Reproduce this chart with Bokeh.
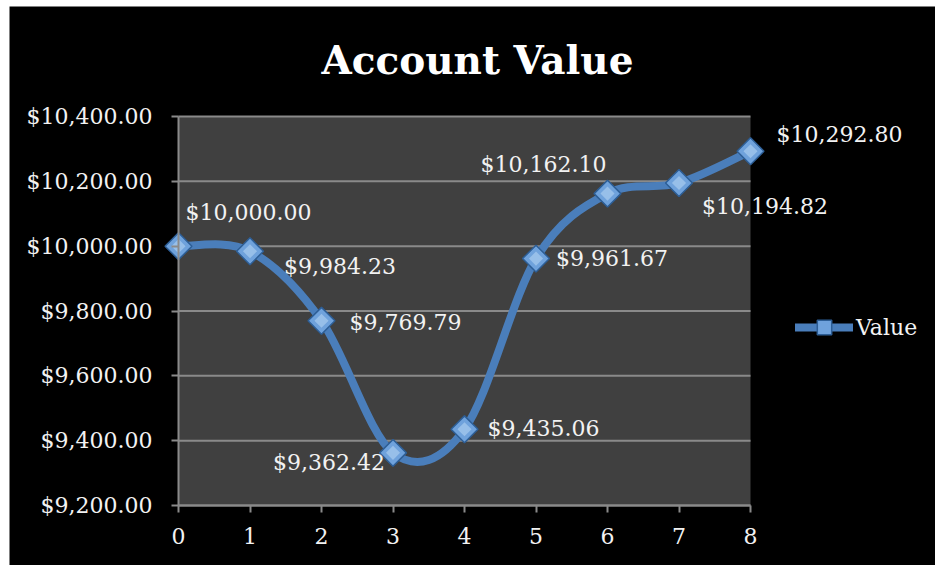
import math
from bokeh.plotting import figure
from bokeh.layouts import row, column
from bokeh.models import (Range1d, NumeralTickFormatter, FixedTicker, Legend,
                          LegendItem, ColumnDataSource, BoxAnnotation, Spacer, Label)
from bokeh.core.properties import value
from bokeh.embed import file_html
from bokeh.resources import INLINE

# ---- data ----
periods = [0, 1, 2, 3, 4, 5, 6, 7, 8]
account_values = [10000.00, 9984.23, 9769.79, 9362.42, 9435.06,
                  9961.67, 10162.10, 10194.82, 10292.80]
value_labels = ["$10,000.00", "$9,984.23", "$9,769.79", "$9,362.42", "$9,435.06",
                "$9,961.67", "$10,162.10", "$10,194.82", "$10,292.80"]
y_ticks = [9200, 9400, 9600, 9800, 10000, 10200, 10400]
x_ticks = [0, 1, 2, 3, 4, 5, 6, 7, 8]
series_name = "Value"
title_text = "Account Value"

# label placement (style, pixels)
lab_dx = [7, 34, 28, -8, 23, 20, -1, 23, 26]
lab_dy = [-34, 15, 2, 10, -1, 0, -29, 23, -17]
lab_align = ["left", "left", "left", "right", "left", "left", "right", "left", "left"]

FONT = "DejaVu Serif"
LINE_COLOR = "#4A7EBB"
TXT = "#F2F2F2"
GRID = "#8A8A8A"
PLOT_BG = "#404040"

x0, x1 = x_ticks[0], x_ticks[-1]
y0, y1 = y_ticks[0], y_ticks[-1]

# layout (pixels): plot area 572 x 389 px inside a 926 x 559 px chart
W, H = 926, 559
area_w, area_h = 572.0, 389.0
left_px, right_px, top_px, bottom_px = 169.0, 185.0, 110.0, 60.0
xs = (x1 - x0) / area_w
ys = (y1 - y0) / area_h

# the frame covers the whole chart so markers, labels and legend are never clipped;
# the gray plot area is a box from the first to the last tick
p = figure(width=W, height=H, output_backend="svg", toolbar_location=None,
           x_range=Range1d(x0 - left_px * xs, x1 + right_px * xs),
           y_range=Range1d(y0 - bottom_px * ys, y1 + top_px * ys),
           min_border_left=0, min_border_right=0, min_border_top=0,
           min_border_bottom=0)
p.background_fill_color = "#000000"
p.border_fill_color = "#000000"
p.outline_line_color = None
p.title.visible = False

p.add_layout(BoxAnnotation(left=x0, right=x1, bottom=y0, top=y1, fill_color=PLOT_BG,
                           fill_alpha=1, line_color=None, level="image"))

# chart title, centred above the plot area
p.add_layout(Label(x=x0 + 299 * xs, y=y1 + 57 * ys, text=title_text, text_align="center",
                   text_baseline="alphabetic", text_color="#FFFFFF", text_font=FONT,
                   text_font_style="bold", text_font_size="39px"))

# axes
for ax in (p.xaxis[0], p.yaxis[0]):
    ax.axis_line_color = GRID
    ax.axis_line_width = 2
    ax.major_tick_line_color = GRID
    ax.major_tick_line_width = 2
    ax.major_tick_in = 0
    ax.major_tick_out = 7
    ax.minor_tick_line_color = None
    ax.major_label_text_color = TXT
    ax.major_label_text_font = FONT
    ax.major_label_text_font_size = "22px"
p.yaxis[0].ticker = FixedTicker(ticks=y_ticks)
p.yaxis[0].formatter = NumeralTickFormatter(format="$0,0.00")
p.yaxis[0].major_label_standoff = 19
p.yaxis[0].fixed_location = x0
p.yaxis[0].bounds = (y0, y1)
p.xaxis[0].ticker = FixedTicker(ticks=x_ticks)
p.xaxis[0].major_label_standoff = 15
p.xaxis[0].fixed_location = y0
p.xaxis[0].bounds = (x0, x1)

p.xgrid.grid_line_color = None
p.ygrid.grid_line_color = None
# horizontal gridlines limited to the plot area
p.segment(x0=[x0] * len(y_ticks), x1=[x1] * len(y_ticks), y0=y_ticks, y1=y_ticks,
          line_color=GRID, line_width=2)

# smooth line via bezier segments (Catmull-Rom style control points)
n = len(periods)
seg = dict(x0=[], y0=[], x1=[], y1=[], cx0=[], cy0=[], cx1=[], cy1=[])
for i in range(n - 1):
    xa, ya = (periods[i - 1], account_values[i - 1]) if i > 0 else (periods[i], account_values[i])
    xb, yb = periods[i], account_values[i]
    xc, yc = periods[i + 1], account_values[i + 1]
    xd, yd = (periods[i + 2], account_values[i + 2]) if i + 2 < n else (xc, yc)
    seg["x0"].append(xb); seg["y0"].append(yb)
    seg["x1"].append(xc); seg["y1"].append(yc)
    seg["cx0"].append(xb + (xc - xa) / 6.0); seg["cy0"].append(yb + (yc - ya) / 6.0)
    seg["cx1"].append(xc - (xd - xb) / 6.0); seg["cy1"].append(yc - (yd - yb) / 6.0)
curve = p.bezier(x0="x0", y0="y0", x1="x1", y1="y1", cx0="cx0", cy0="cy0", cx1="cx1",
                 cy1="cy1", source=ColumnDataSource(seg), line_color=LINE_COLOR,
                 line_width=8, line_cap="round")

src = ColumnDataSource(dict(x=periods, y=account_values, lab=value_labels,
                            dx=lab_dx, dy=lab_dy, al=lab_align))
marks = p.scatter(x="x", y="y", source=src, marker="square", angle=math.pi / 4, size=19,
                  fill_color="#6FA2DC", line_color="#2D5E96", line_width=1.5)
p.scatter(x="x", y="y", source=src, marker="square", angle=math.pi / 4, size=10,
          fill_color="#B8D7F4", fill_alpha=0.55, line_color=None)

p.text(x="x", y="y", text="lab", source=src, x_offset="dx", y_offset="dy",
       text_align="al", text_baseline="middle", text_color=TXT,
       text_font=value(FONT), text_font_size="22px")

legend = Legend(items=[LegendItem(label=series_name, renderers=[curve, marks], index=0)],
                location=(786, 220), background_fill_alpha=0, border_line_color=None,
                label_text_color=TXT, label_text_font=FONT, label_text_font_size="22px",
                glyph_width=58, glyph_height=36, label_standoff=3, padding=0, margin=0,
                spacing=0)
p.add_layout(legend)

layout = row(Spacer(width=9), column(Spacer(height=6), p))
open("out.html", "w").write(file_html(layout, INLINE))
